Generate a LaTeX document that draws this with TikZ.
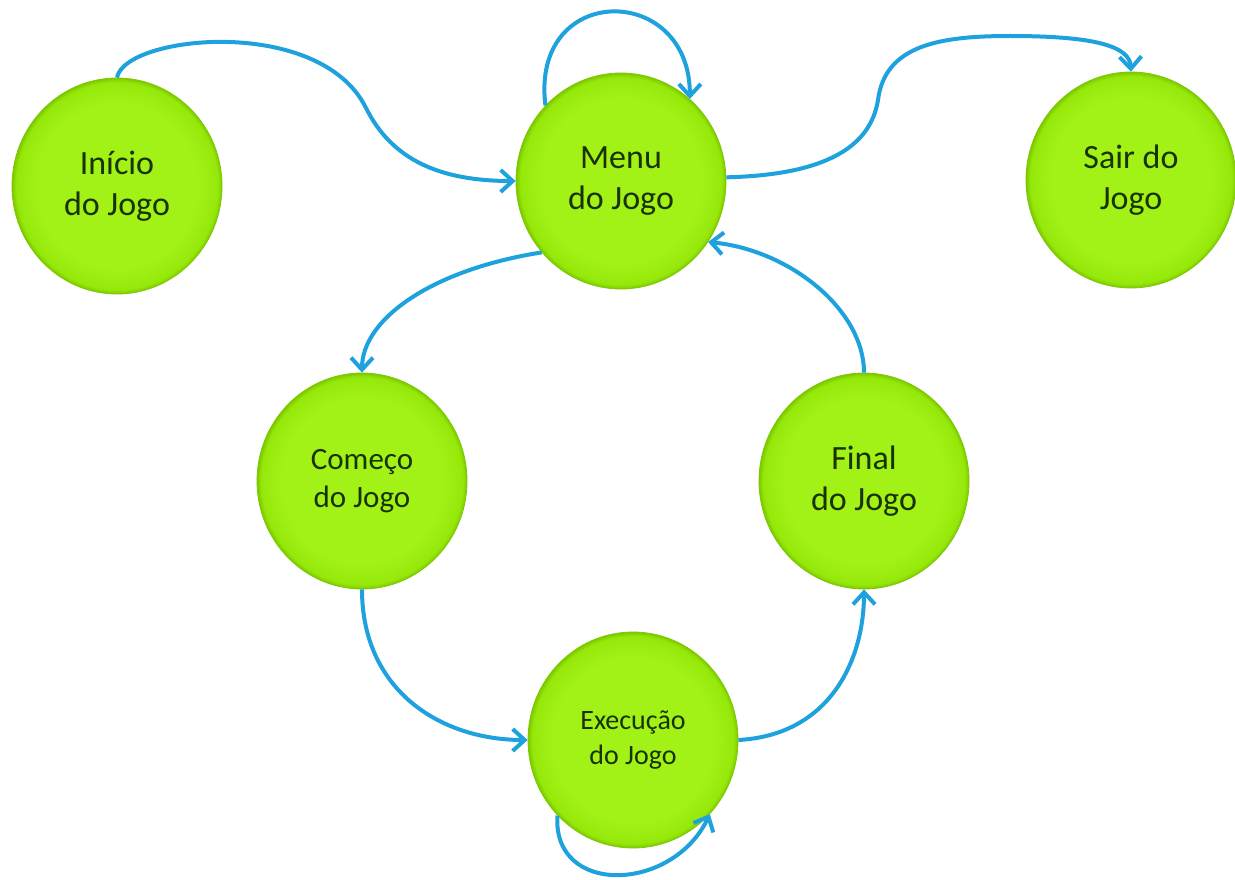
\documentclass[tikz,border=0pt]{standalone}
\usepackage{fontspec}
\setmainfont{Carlito}
\usetikzlibrary{shapes.geometric,arrows.meta}
\definecolor{bA}{RGB}{162,242,24}
\definecolor{bB}{RGB}{150,232,10}
\definecolor{bC}{RGB}{125,200,0}
\definecolor{txtgreen}{RGB}{24,50,0}
\definecolor{flow}{RGB}{30,162,222}
\pgfdeclareradialshading{bubbleshade}{\pgfpoint{0bp}{0bp}}{color(0bp)=(bA); color(19bp)=(bA); color(24bp)=(bB); color(25bp)=(bC); color(50bp)=(bC)}
\begin{document}
\begin{tikzpicture}[x=1pt,y=-1pt,
  state/.style={ellipse, minimum width=210pt, minimum height=216pt, inner sep=0pt,
    shading=bubbleshade, draw=bC, line width=0.8pt, text=txtgreen, align=center},
  bigtxt/.style={font=\fontsize{34}{41}\selectfont},
  midtxt/.style={font=\fontsize{31}{38}\selectfont},
  smalltxt/.style={font=\fontsize{28}{35}\selectfont},
  flowline/.style={draw=flow, line width=4pt, -{Straight Barb[length=12pt,width=22pt]}}]
\useasboundingbox (0,0) rectangle (1235,880);
\fill[white] (0,0) rectangle (1235,880);

\node[state,bigtxt] (ini) at (117,186) {Início\\do Jogo};
\node[state,bigtxt] (menu) at (621,181) {Menu\\do Jogo};
\node[state,bigtxt] (sair) at (1131,180) {Sair do\\Jogo};
\node[state,midtxt] (come) at (362,481) {Começo\\do Jogo};
\node[state,bigtxt] (final) at (864,481) {Final\\do Jogo};
\node[state,smalltxt] (exec) at (633,740) {Execução\\do Jogo};

% Inicio -> Menu
\draw[flowline] (ini.90) .. controls (125,35) and (320,15) .. (366,108)
  .. controls (392,160) and (440,181) .. (menu.180);
% Menu self loop
\draw[flowline] (menu.135) .. controls (530,-18) and (690,-18) .. (menu.50);
% Menu -> Sair
\draw[flowline] (menu.2) .. controls (820,175) and (870,150) .. (878,100)
  .. controls (885,45) and (940,36) .. (1010,36)
  .. controls (1090,36) and (1130,45) .. (sair.90);
% Menu -> Comeco
\draw[flowline] (menu.222) .. controls (430,270) and (362,320) .. (come.90);
% Final -> Menu
\draw[flowline] (final.90) .. controls (864,310) and (790,250) .. (menu.325);
% Comeco -> Execucao
\draw[flowline] (come.270) .. controls (362,690) and (440,740) .. (exec.180);
% Execucao -> Final
\draw[flowline] (exec.0) .. controls (830,735) and (864,660) .. (final.270);
% Execucao self loop
\draw[flowline] (exec.225) .. controls (552,896) and (672,893) .. (exec.316);
\end{tikzpicture}
\end{document}
